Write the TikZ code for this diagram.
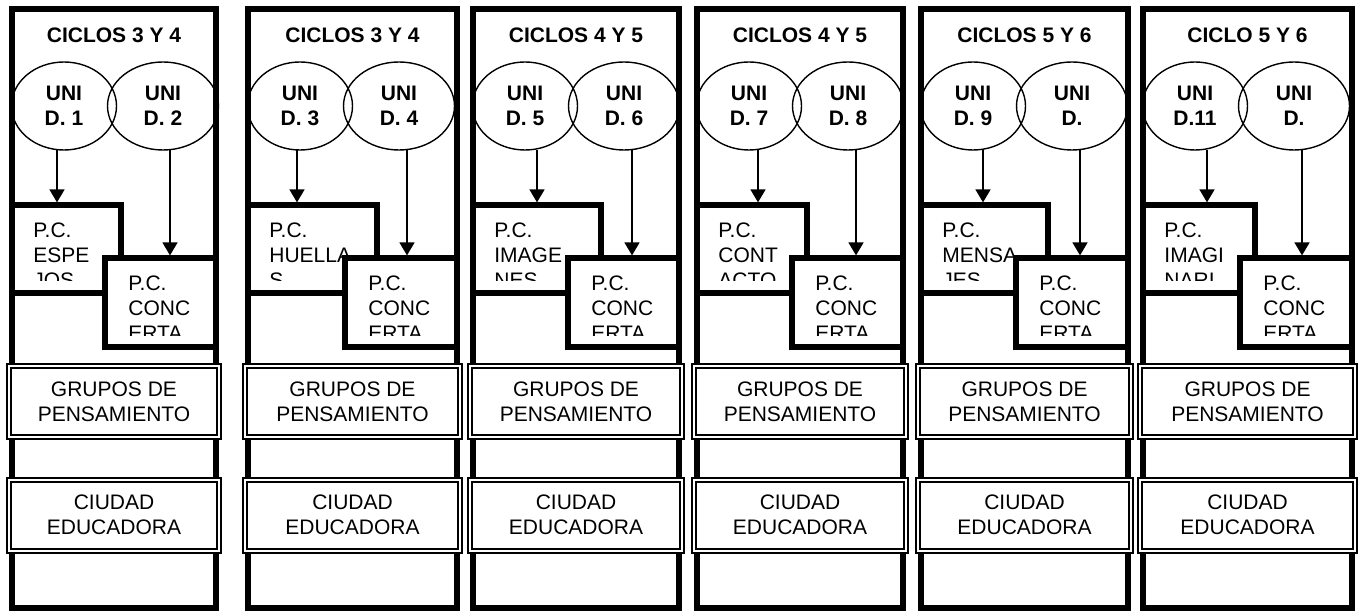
\documentclass[tikz,border=0pt]{standalone}
\usepackage{fontspec}
\setmainfont{Liberation Sans}
\usetikzlibrary{fit, arrows.meta, shapes.geometric}

\begin{document}
\begin{tikzpicture}[x=0.5pt, y=-0.5pt,
    font=\fontsize{10.5}{12.5}\selectfont,
    columna/.style={draw, line width=2.6pt, inner sep=0pt},
    ciclo/.style={inner sep=0pt, font=\fontsize{10.5}{12.5}\selectfont\bfseries},
    unidizq/.style={draw, ellipse, line width=0.7pt, inner sep=0pt, minimum width=52.5pt, minimum height=44pt, align=center, font=\fontsize{10.5}{12.5}\selectfont\bfseries},
    unidder/.style={unidizq, minimum width=55.5pt},
    pc/.style={draw, fill=white, line width=2.6pt, inner sep=0pt},
    pctexto/.style={anchor=north west, inner sep=0pt, align=left, font=\fontsize{10.5}{12.6}\selectfont},
    grupo/.style={draw, fill=white, double, double distance=1pt, line width=1pt, inner sep=0pt, align=center, text depth=0pt, minimum height=35.5pt},
    arrow/.style={-{Triangle[width=7.5pt, length=6.5pt]}, line width=0.75pt}
]
    \useasboundingbox (0,0) rectangle (1368,614);

    % Column 1
    \node[columna, fit={(12,9) (216,608)}] (c1) {};
    \node[ciclo] (t1) at (114,35) {CICLOS 3 Y 4};
    \node[unidizq] (u1) at (64,106) {UNI\\D. 1};
    \node[unidder] (u2) at (163,106) {UNI\\D. 2};
    \node[pc, fit={(12,205) (121,293)}] (p1) {};
    \begin{scope}
        \clip (12,205) rectangle (121,281);
        \node[pctexto] (e1) at (33,222) {P.C.\\ESPE\\JOS};
    \end{scope}
    \node[pc, fit={(105,258) (216,347)}] (k1) {};
    \begin{scope}
        \clip (105,258) rectangle (216,335);
        \node[pctexto] (f1) at (128,275) {P.C.\\CONC\\ERTA};
    \end{scope}
    \coordinate (a1) at (57,150);
    \coordinate (b1) at (170,150);
    \draw[arrow] (a1) -- (a1 |- p1.north);
    \draw[arrow] (b1) -- (b1 |- k1.north);
    \node[grupo, minimum width=105pt] (g1) at (114,401.5) {GRUPOS DE\\PENSAMIENTO};
    \node[grupo, minimum width=105pt] (d1) at (114,515) {CIUDAD\\EDUCADORA};

    % Column 2
    \node[columna, fit={(248,9) (457,608)}] (c2) {};
    \node[ciclo] (t2) at (352.5,35) {CICLOS 3 Y 4};
    \node[unidizq] (u3) at (300,106) {UNI\\D. 3};
    \node[unidder] (u4) at (399,106) {UNI\\D. 4};
    \node[pc, fit={(248,205) (377,293)}] (p2) {};
    \begin{scope}
        \clip (248,205) rectangle (377,281);
        \node[pctexto] (e2) at (269,222) {P.C.\\HUELLA\\S};
    \end{scope}
    \node[pc, fit={(345,258) (457,347)}] (k2) {};
    \begin{scope}
        \clip (345,258) rectangle (457,335);
        \node[pctexto] (f2) at (368,275) {P.C.\\CONC\\ERTA};
    \end{scope}
    \coordinate (a2) at (297,150);
    \coordinate (b2) at (407,150);
    \draw[arrow] (a2) -- (a2 |- p2.north);
    \draw[arrow] (b2) -- (b2 |- k2.north);
    \node[grupo, minimum width=107.5pt] (g2) at (352.5,401.5) {GRUPOS DE\\PENSAMIENTO};
    \node[grupo, minimum width=107.5pt] (d2) at (352.5,515) {CIUDAD\\EDUCADORA};

    % Column 3
    \node[columna, fit={(473,9) (679,608)}] (c3) {};
    \node[ciclo] (t3) at (576,35) {CICLOS 4 Y 5};
    \node[unidizq] (u5) at (525,106) {UNI\\D. 5};
    \node[unidder] (u6) at (624,106) {UNI\\D. 6};
    \node[pc, fit={(473,205) (601,293)}] (p3) {};
    \begin{scope}
        \clip (473,205) rectangle (601,281);
        \node[pctexto] (e3) at (494,222) {P.C.\\IMAGE\\NES};
    \end{scope}
    \node[pc, fit={(568,258) (679,347)}] (k3) {};
    \begin{scope}
        \clip (568,258) rectangle (679,335);
        \node[pctexto] (f3) at (591,275) {P.C.\\CONC\\ERTA};
    \end{scope}
    \coordinate (a3) at (537,150);
    \coordinate (b3) at (632,150);
    \draw[arrow] (a3) -- (a3 |- p3.north);
    \draw[arrow] (b3) -- (b3 |- k3.north);
    \node[grupo, minimum width=106pt] (g3) at (576,401.5) {GRUPOS DE\\PENSAMIENTO};
    \node[grupo, minimum width=106pt] (d3) at (576,515) {CIUDAD\\EDUCADORA};

    % Column 4
    \node[columna, fit={(697,9) (903,608)}] (c4) {};
    \node[ciclo] (t4) at (800,35) {CICLOS 4 Y 5};
    \node[unidizq] (u7) at (749,106) {UNI\\D. 7};
    \node[unidder] (u8) at (848,106) {UNI\\D. 8};
    \node[pc, fit={(697,205) (807,293)}] (p4) {};
    \begin{scope}
        \clip (697,205) rectangle (807,281);
        \node[pctexto] (e4) at (718,222) {P.C.\\CONT\\ACTO};
    \end{scope}
    \node[pc, fit={(792,258) (903,347)}] (k4) {};
    \begin{scope}
        \clip (792,258) rectangle (903,335);
        \node[pctexto] (f4) at (815,275) {P.C.\\CONC\\ERTA};
    \end{scope}
    \coordinate (a4) at (758,150);
    \coordinate (b4) at (856,150);
    \draw[arrow] (a4) -- (a4 |- p4.north);
    \draw[arrow] (b4) -- (b4 |- k4.north);
    \node[grupo, minimum width=106pt] (g4) at (800,401.5) {GRUPOS DE\\PENSAMIENTO};
    \node[grupo, minimum width=106pt] (d4) at (800,515) {CIUDAD\\EDUCADORA};

    % Column 5
    \node[columna, fit={(921,9) (1128,608)}] (c5) {};
    \node[ciclo] (t5) at (1024.5,35) {CICLOS 5 Y 6};
    \node[unidizq] (u9) at (973,106) {UNI\\D. 9};
    \node[unidder] (u10) at (1072,106) {UNI\\D.};
    \node[pc, fit={(921,205) (1048,293)}] (p5) {};
    \begin{scope}
        \clip (921,205) rectangle (1048,281);
        \node[pctexto] (e5) at (942,222) {P.C.\\MENSA\\JES};
    \end{scope}
    \node[pc, fit={(1016,258) (1128,347)}] (k5) {};
    \begin{scope}
        \clip (1016,258) rectangle (1128,335);
        \node[pctexto] (f5) at (1039,275) {P.C.\\CONC\\ERTA};
    \end{scope}
    \coordinate (a5) at (983,150);
    \coordinate (b5) at (1080,150);
    \draw[arrow] (a5) -- (a5 |- p5.north);
    \draw[arrow] (b5) -- (b5 |- k5.north);
    \node[grupo, minimum width=106.5pt] (g5) at (1024.5,401.5) {GRUPOS DE\\PENSAMIENTO};
    \node[grupo, minimum width=106.5pt] (d5) at (1024.5,515) {CIUDAD\\EDUCADORA};

    % Column 6
    \node[columna, fit={(1143,9) (1352,608)}] (c6) {};
    \node[ciclo] (t6) at (1247.5,35) {CICLO 5 Y 6};
    \node[unidizq] (u11) at (1195,106) {UNI\\D.11};
    \node[unidder] (u12) at (1294,106) {UNI\\D.};
    \node[pc, fit={(1143,205) (1255,293)}] (p6) {};
    \begin{scope}
        \clip (1143,205) rectangle (1255,281);
        \node[pctexto] (e6) at (1164,222) {P.C.\\IMAGI\\NARI};
    \end{scope}
    \node[pc, fit={(1240,258) (1352,347)}] (k6) {};
    \begin{scope}
        \clip (1240,258) rectangle (1352,335);
        \node[pctexto] (f6) at (1263,275) {P.C.\\CONC\\ERTA};
    \end{scope}
    \coordinate (a6) at (1207,150);
    \coordinate (b6) at (1302,150);
    \draw[arrow] (a6) -- (a6 |- p6.north);
    \draw[arrow] (b6) -- (b6 |- k6.north);
    \node[grupo, minimum width=107.5pt] (g6) at (1247.5,401.5) {GRUPOS DE\\PENSAMIENTO};
    \node[grupo, minimum width=107.5pt] (d6) at (1247.5,515) {CIUDAD\\EDUCADORA};
\end{tikzpicture}
\end{document}
